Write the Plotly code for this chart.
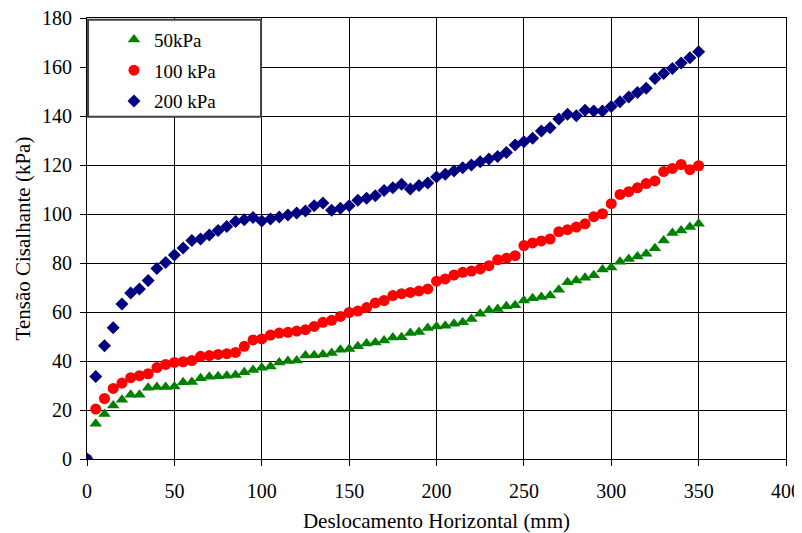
import plotly.graph_objects as go

x_mm = list(range(0, 355, 5))

tau_50 = [0, 14.4, 18.4, 21.8, 24.2, 26.2, 26.2, 29.1, 29.4, 29.4, 29.6,
          31.3, 31.4, 33.0, 33.6, 33.8, 34.0, 34.3, 35.4, 36.3, 37.2,
          37.8, 39.4, 40.0, 40.2, 42.2, 42.3, 42.7, 43.3, 44.6, 44.9,
          46.0, 47.1, 47.6, 48.4, 49.6, 49.7, 51.4, 51.8, 53.5, 54.1,
          54.4, 55.2, 55.8, 57.1, 59.3, 60.7, 61.2, 62.3, 62.8, 64.7,
          65.6, 66.1, 66.7, 69.1, 72.1, 72.9, 74.0, 75.0, 77.3, 78.2,
          80.5, 81.6, 82.7, 83.8, 86.0, 89.2, 92.2, 93.3, 94.7, 96.0]

tau_100 = [0, 20.4, 24.7, 28.8, 31.0, 33.2, 34.0, 34.8, 37.3, 38.6, 39.4,
           39.7, 40.2, 41.9, 42.2, 42.7, 43.0, 43.5, 46.0, 48.6, 49.0,
           50.6, 51.4, 51.7, 52.2, 52.8, 54.1, 55.8, 56.6, 58.2, 59.8,
           60.4, 61.8, 63.7, 64.7, 66.7, 67.5, 68.0, 68.6, 69.4, 72.6,
           73.5, 75.1, 76.2, 76.7, 77.6, 78.9, 81.3, 81.9, 83.0, 87.1,
           88.2, 89.0, 89.8, 92.8, 93.6, 94.7, 96.0, 98.9, 100.1, 104.2,
           108.0, 109.1, 110.7, 112.4, 113.5, 117.3, 118.6, 120.2, 118.1, 119.7]

tau_200 = [0, 33.7, 46.2, 53.6, 63.3, 67.8, 69.4, 72.9, 77.8, 80.2, 83.3,
           86.1, 89.2, 89.8, 91.4, 93.3, 94.9, 96.9, 97.7, 98.6, 97.1,
           98.0, 98.8, 99.6, 100.4, 101.2, 103.4, 104.5, 101.5, 102.3, 103.4,
           105.6, 106.4, 107.5, 109.6, 110.7, 112.1, 110.2, 111.6, 112.7, 115.1,
           116.2, 117.6, 118.9, 120.0, 121.3, 122.4, 123.5, 125.1, 128.2, 129.5,
           130.9, 133.9, 135.2, 138.8, 140.7, 140.1, 142.3, 142.0, 142.0, 143.9,
           145.8, 147.8, 149.6, 151.3, 155.3, 157.3, 159.4, 161.6, 163.8, 166.2]

series_names = ["50kPa", "100 kPa", "200 kPa"]

x_ticks = list(range(0, 401, 50))
y_ticks = list(range(0, 181, 20))

FONT = "Liberation Serif"

fig = go.Figure()
fig.add_trace(go.Scatter(x=x_mm, y=tau_50, mode="markers", name=series_names[0], legendgroup="a",
                         marker=dict(symbol="triangle-up", size=11, color="#008000")))
fig.add_trace(go.Scatter(x=x_mm, y=tau_100, mode="markers", name=series_names[1], legendgroup="b",
                         marker=dict(symbol="circle", size=11, color="#FF0000")))
fig.add_trace(go.Scatter(x=x_mm, y=tau_200, mode="markers", name=series_names[2], legendgroup="c",
                         marker=dict(symbol="diamond", size=10, color="#000080")))

axis_common = dict(
    showgrid=True, gridcolor="#000000", gridwidth=1,
    showline=True, linecolor="#000000", linewidth=1, mirror=True,
    ticks="outside", ticklen=6, tickcolor="#000000",
    zeroline=False, automargin=False, ticklabeloverflow="allow",
    tickfont=dict(family=FONT, size=20, color="#000000"),
)

# page body has an 8px margin, so the figure is sized/offset to place the plot area
fig.update_layout(
    width=794, height=525,
    margin=dict(l=79, r=16, t=10, b=74, autoexpand=False),
    paper_bgcolor="white", plot_bgcolor="white",
    font=dict(family=FONT, color="#000000"),
    xaxis=dict(range=[0, 400], tickvals=x_ticks, ticklabelstandoff=8,
               title=dict(text="Deslocamento Horizontal (mm)", font=dict(family=FONT, size=21), standoff=14),
               **axis_common),
    yaxis=dict(range=[0, 180], tickvals=y_ticks, ticklabelstandoff=4,
               title=dict(text="Tensão Cisalhante (kPa)", font=dict(family=FONT, size=21), standoff=5),
               **axis_common),
    showlegend=True,
    legend=dict(x=0.0386, y=0.994, xanchor="left", yanchor="top",
                bgcolor="rgba(0,0,0,0)", borderwidth=0,
                font=dict(family=FONT, size=19, color="#000000"),
                itemwidth=30, tracegroupgap=3),
    shapes=[dict(type="rect", xref="paper", yref="paper",
                 x0=0.0015, x1=0.249, y0=0.776, y1=0.996,
                 fillcolor="white", line=dict(color="#404040", width=2), layer="above")],
)

fig.write_html("out.html")
